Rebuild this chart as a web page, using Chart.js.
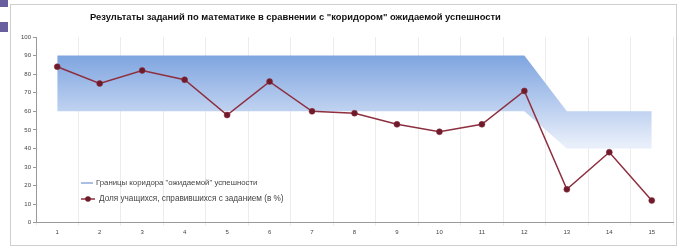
<!DOCTYPE html>
<html>
<head>
<meta charset="utf-8">
<script src="https://cdn.jsdelivr.net/npm/chart.js@4.4.0/dist/chart.umd.min.js"></script>
<style>
  body { margin: 0; background: #fff; }
  #wrap { position: relative; width: 681px; height: 249px; }
  .side { position: absolute; left: 0; width: 8px; background: #6a5f9e; }
</style>
</head>
<body>
<div id="wrap">
  <div class="side" style="top:0;height:7px;"></div>
  <div class="side" style="top:22px;height:10px;"></div>
  <canvas id="chart" width="681" height="249"></canvas>
</div>
<script>
// task numbers
const tasks = ['1', '2', '3', '4', '5', '6', '7', '8', '9', '10', '11', '12', '13', '14', '15'];
// corridor of expected success (%)
const upperBound = [90, 90, 90, 90, 90, 90, 90, 90, 90, 90, 90, 90, 60, 60, 60];
const lowerBound = [60, 60, 60, 60, 60, 60, 60, 60, 60, 60, 60, 60, 40, 40, 40];
// share of students who solved the task (%)
const solved = [84, 75, 82, 77, 58, 76, 60, 59, 53, 49, 53, 71, 18, 38, 12];
const yTicks = [0, 10, 20, 30, 40, 50, 60, 70, 80, 90, 100];

const titleText = 'Результаты заданий по математике в сравнении с "коридором" ожидаемой успешности';
const legendBand = 'Границы коридора "ожидаемой" успешности';
const legendLine = 'Доля учащихся, справившихся с заданием (в %)';

const lineColor = '#8e2f3f';

// frame, title and in-plot legend
const decor = {
    id: 'decor',
    beforeDraw(chart) {
        const c = chart.ctx;
        c.save();
        c.strokeStyle = '#cfcfcf';
        c.lineWidth = 1;
        c.strokeRect(10.5, 4.5, 666, 241);
        c.restore();
    },
    afterDraw(chart) {
        const c = chart.ctx;
        c.save();
        c.fillStyle = '#111';
        c.font = 'bold 9.4px "Liberation Sans", Arial, sans-serif';
        c.textBaseline = 'middle';
        c.fillText(titleText, 90, 17);

        c.font = '7.8px "Liberation Sans", Arial, sans-serif';
        c.fillStyle = '#444';
        // band legend
        c.strokeStyle = '#a9bfe3';
        c.lineWidth = 2;
        c.beginPath(); c.moveTo(81, 183); c.lineTo(93, 183); c.stroke();
        c.fillText(legendBand, 96, 183);
        // line legend
        c.font = '8.2px "Liberation Sans", Arial, sans-serif';
        c.strokeStyle = lineColor;
        c.lineWidth = 1.5;
        c.beginPath(); c.moveTo(81, 199); c.lineTo(95, 199); c.stroke();
        c.fillStyle = '#6e1b2b';
        c.beginPath(); c.arc(88, 199, 2.8, 0, Math.PI * 2); c.fill();
        c.fillStyle = '#444';
        c.fillText(legendLine, 99, 199);
        c.restore();
    }
};

const ctx = document.getElementById('chart').getContext('2d');
const grad = ctx.createLinearGradient(0, 57, 0, 145);
grad.addColorStop(0, 'rgba(128,166,224,1)');
grad.addColorStop(0.6, 'rgba(190,209,240,1)');
grad.addColorStop(1, 'rgba(232,239,250,1)');

new Chart(ctx, {
    type: 'line',
    data: {
        labels: tasks,
        datasets: [
            {
                label: legendLine,
                data: solved,
                borderColor: lineColor,
                borderWidth: 1.5,
                pointRadius: 3,
                pointBackgroundColor: '#6e1b2b',
                pointBorderColor: '#8e2f3f',
                pointBorderWidth: 0.5,
                fill: false,
                tension: 0
            },
            {
                label: 'upper',
                data: upperBound,
                borderWidth: 0,
                pointRadius: 0,
                fill: false,
                tension: 0
            },
            {
                label: 'lower',
                data: lowerBound,
                borderWidth: 0,
                pointRadius: 0,
                backgroundColor: grad,
                fill: '-1',
                tension: 0
            }
        ]
    },
    options: {
        responsive: false,
        animation: false,
        layout: { padding: { left: 12, top: 37, right: 8, bottom: 10 } },
        plugins: {
            legend: { display: false },
            title: { display: false },
            tooltip: { enabled: false }
        },
        scales: {
            x: {
                offset: true,
                grid: { color: '#ececec', offset: true, drawTicks: true, tickLength: 3 },
                border: { color: '#999' },
                ticks: { color: '#444', font: { size: 6 }, padding: 3, maxRotation: 0 }
            },
            y: {
                min: 0,
                max: 100,
                afterFit(scale) { scale.width = 24; },
                afterBuildTicks(scale) { scale.ticks = yTicks.map(v => ({ value: v })); },
                grid: { drawOnChartArea: false, drawTicks: true, tickLength: 3, color: '#999' },
                border: { color: '#999' },
                ticks: { color: '#444', font: { size: 6 }, padding: 2 }
            }
        }
    },
    plugins: [decor]
});
</script>
</body>
</html>
